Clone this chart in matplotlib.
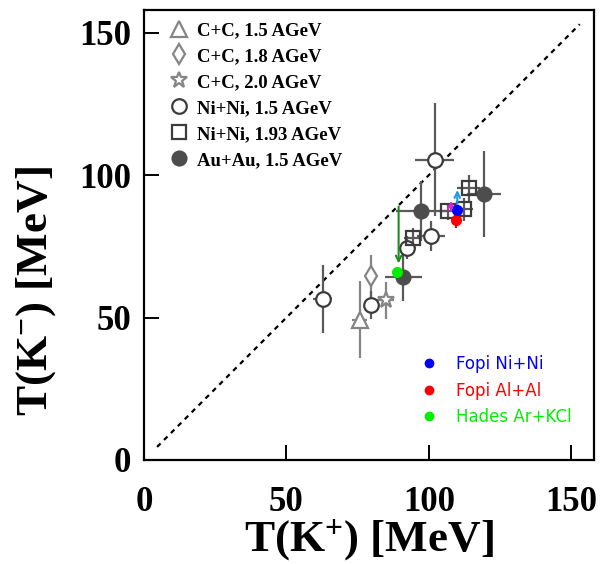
import matplotlib
matplotlib.use("Agg")
import matplotlib.pyplot as plt
from matplotlib.lines import Line2D

plt.rcParams["mathtext.fontset"] = "custom"
plt.rcParams["mathtext.rm"] = "Liberation Serif:bold"
plt.rcParams["mathtext.bf"] = "Liberation Serif:bold"
plt.rcParams["mathtext.it"] = "Liberation Serif:bold"

SERIF = "Liberation Serif"

# ---- data: inverse slope parameters T(K+) vs T(K-) [MeV] ----
cc15_x = [75.8]; cc15_y = [49.2]; cc15_xerr = [2.6]; cc15_yerr = [13.5]
cc18_x = [79.7]; cc18_y = [64.5]; cc18_xerr = [0.0]; cc18_yerr = [7.5]
cc20_x = [84.8]; cc20_y = [56.0]; cc20_xerr = [3.0]; cc20_yerr = [6.5]

nini15_x = [62.7, 79.8, 92.5, 100.7, 102.0]
nini15_y = [56.5, 54.5, 74.5, 78.6, 105.5]
nini15_xerr = [3.2, 2.0, 3.0, 5.0, 6.8]
nini15_yerr = [12.0, 5.0, 4.0, 5.2, 20.0]

nini193_x = [94.3, 106.6, 112.5, 114.0]
nini193_y = [78.0, 87.3, 88.0, 95.5]
nini193_xerr = [3.0, 3.0, 3.0, 4.0]
nini193_yerr = [3.5, 3.0, 4.0, 4.5]

auau15_x = [91.1, 97.2, 119.5]
auau15_y = [64.3, 87.3, 93.4]
auau15_xerr = [6.5, 8.8, 6.0]
auau15_yerr = [8.5, 10.5, 15.0]

fopi_nini_x = [110.0]; fopi_nini_y = [87.8]
fopi_alal_x = [109.4]; fopi_alal_y = [84.3]; fopi_alal_yerr = [3.0]
hades_x = [89.0]; hades_y = [66.0]

# arrows: (x, y_start, y_end, colour)
arrows = [(110.0, 88.5, 94.8, "#1e9be6"),
          (107.8, 87.5, 91.0, "#e020e0"),
          (89.4, 89.0, 69.0, "#1e8c1e")]

legend_labels = ["C+C, 1.5 AGeV", "C+C, 1.8 AGeV", "C+C, 2.0 AGeV",
                 "Ni+Ni, 1.5 AGeV", "Ni+Ni, 1.93 AGeV", "Au+Au, 1.5 AGeV"]
color_labels = ["Fopi Ni+Ni", "Fopi Al+Al", "Hades Ar+KCl"]
color_values = ["#0000ff", "#ff0000", "#00ee00"]

LIGHT = "#858585"
DARK = "#3c3c3c"
FILL = "#4d4d4d"
ERR = "#5a5a5a"

fig = plt.figure(figsize=(6.07, 5.64), dpi=100)
ax = fig.add_axes([0.2372, 0.1844, 0.7414, 0.7979])

# diagonal T(K+) = T(K-)
ax.plot([4.6, 153], [4.6, 153], ls=(0, (2.2, 2.2)), color="black", lw=1.6, zorder=1)

def series(x, y, xe, ye, marker, ms, mfc, mec, ecol, z=3, mew=1.6):
    ax.errorbar(x, y, xerr=xe, yerr=ye, fmt="none", ecolor=ecol, elinewidth=1.6,
                capsize=0, zorder=z - 1)
    ax.plot(x, y, ls="none", marker=marker, ms=ms, mfc=mfc, mec=mec, mew=mew, zorder=z)

series(cc15_x, cc15_y, cc15_xerr, cc15_yerr, "^", 11, "white", LIGHT, LIGHT)
series(cc18_x, cc18_y, cc18_xerr, cc18_yerr, "d", 10, "white", LIGHT, LIGHT)
series(cc20_x, cc20_y, cc20_xerr, cc20_yerr, "*", 12, "white", LIGHT, LIGHT)
series(nini15_x, nini15_y, nini15_xerr, nini15_yerr, "o", 10.5, "white", DARK, ERR)
series(nini193_x, nini193_y, nini193_xerr, nini193_yerr, "s", 10, "none", DARK, ERR)
series(auau15_x, auau15_y, auau15_xerr, auau15_yerr, "o", 10, FILL, FILL, ERR)

for x, y0, y1, c in arrows:
    ax.annotate("", xy=(x, y1), xytext=(x, y0),
                arrowprops=dict(arrowstyle="->", color=c, lw=1.5,
                                shrinkA=0, shrinkB=0, mutation_scale=10), zorder=5)

ax.errorbar(fopi_alal_x, fopi_alal_y, yerr=fopi_alal_yerr, fmt="o", ms=7,
            color=color_values[1], elinewidth=1.6, capsize=0, zorder=6)
ax.plot(fopi_nini_x, fopi_nini_y, "o", ms=7, color=color_values[0], zorder=7)
ax.plot(hades_x, hades_y, "o", ms=7, color=color_values[2], zorder=7)

ax.set_xlim(0, 158)
ax.set_ylim(0, 158)
ax.set_xticks([0, 50, 100, 150])
ax.set_yticks([0, 50, 100, 150])
ax.tick_params(direction="in", length=11, width=1.4, labelsize=25,
               top=False, right=False)
ax.tick_params(axis="x", pad=19)
ax.tick_params(axis="y", pad=9)
for lab in ax.get_xticklabels() + ax.get_yticklabels():
    lab.set_fontfamily(SERIF)
    lab.set_fontweight("bold")
for s in ax.spines.values():
    s.set_linewidth(1.6)

ax.set_xlabel(r"T(K$^{+}$) [MeV]", fontsize=32.5, fontfamily=SERIF,
              fontweight="bold", labelpad=-1)
ax.set_ylabel(r"T(K$^{-}$) [MeV]", fontsize=32.5, fontfamily=SERIF,
              fontweight="bold")
ax.yaxis.set_label_coords(-0.19, 0.375)

handles = [
    Line2D([], [], ls="none", marker="^", ms=11, mfc="white", mec=LIGHT, mew=1.6),
    Line2D([], [], ls="none", marker="d", ms=10, mfc="white", mec=LIGHT, mew=1.6),
    Line2D([], [], ls="none", marker="*", ms=12, mfc="white", mec=LIGHT, mew=1.6),
    Line2D([], [], ls="none", marker="o", ms=10.5, mfc="white", mec=DARK, mew=1.6),
    Line2D([], [], ls="none", marker="s", ms=10, mfc="white", mec=DARK, mew=1.6),
    Line2D([], [], ls="none", marker="o", ms=10, mfc=FILL, mec=FILL, mew=1.6),
]
leg1 = ax.legend(handles, legend_labels, loc="upper left", frameon=False,
                 prop=dict(family=SERIF, weight="bold", size=13.5),
                 handlelength=1.0, handletextpad=0.45, labelspacing=0.47,
                 borderaxespad=0.0, bbox_to_anchor=(0.04, 0.99))
ax.add_artist(leg1)

chandles = [Line2D([], [], ls="none", marker="o", ms=6, color=c) for c in color_values]
leg2 = ax.legend(chandles, color_labels, loc="lower right", frameon=False,
                 prop=dict(family="DejaVu Sans", size=12),
                 handlelength=1.0, handletextpad=1.1, labelspacing=0.5,
                 bbox_to_anchor=(0.964, 0.061), borderaxespad=0.0)
for t, c in zip(leg2.get_texts(), color_values):
    t.set_color(c)

fig.savefig("out.png", dpi=100)
